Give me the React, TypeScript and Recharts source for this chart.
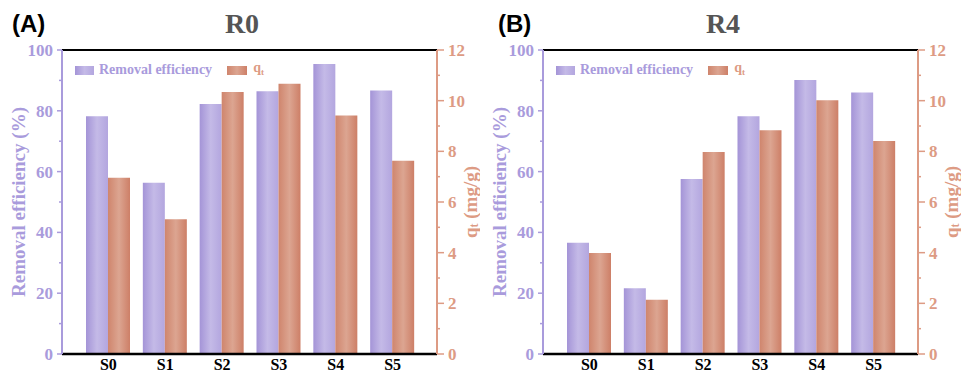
import { Bar, BarChart, Legend, ReferenceLine, XAxis, YAxis } from 'recharts';

const samples = ['S0', 'S1', 'S2', 'S3', 'S4', 'S5'];
const r0Removal = [78.2, 56.3, 82.2, 86.4, 95.4, 86.7];
const r0Qt = [6.96, 5.32, 10.34, 10.67, 9.41, 7.63];
const r4Removal = [36.6, 21.6, 57.6, 78.2, 90.1, 86.0];
const r4Qt = [3.99, 2.14, 7.97, 8.83, 10.02, 8.41];
const removalTicks = [0, 10, 20, 30, 40, 50, 60, 70, 80, 90, 100];
const qtTicks = [0, 1, 2, 3, 4, 5, 6, 7, 8, 9, 10, 11, 12];

const SERIF = "'Liberation Serif', 'Times New Roman', serif";
const SANS = "'Liberation Sans', Arial, sans-serif";
const PURPLE = '#a99bdc';
const ORANGE = '#dd9b84';

const PURPLE_BG = 'linear-gradient(90deg, #a494d7 0%, #c4bae7 50%, #b3a6df 100%)';
const ORANGE_BG = 'linear-gradient(90deg, #cf856d 0%, #dca591 50%, #cd7f67 100%)';

function LeftTick(props: any) {
  const { x, y, payload } = props;
  const major = payload.value % 20 === 0;
  return (
    <g>
      <line x1={x} x2={x - (major ? 5 : 3)} y1={y} y2={y} stroke={PURPLE} strokeWidth={1.5} />
      {major && (
        <text
          x={x - 9}
          y={y}
          dy="0.35em"
          textAnchor="end"
          fill={PURPLE}
          style={{ fontFamily: SERIF, fontWeight: 'bold', fontSize: 17 }}
        >
          {payload.value}
        </text>
      )}
    </g>
  );
}

function RightTick(props: any) {
  const { x, y, payload } = props;
  const major = payload.value % 2 === 0;
  return (
    <g>
      <line x1={x} x2={x + (major ? 7 : 3)} y1={y} y2={y} stroke={ORANGE} strokeWidth={1.5} />
      {major && (
        <text
          x={x + 11}
          y={y}
          dy="0.35em"
          textAnchor="start"
          fill={ORANGE}
          style={{ fontFamily: SERIF, fontWeight: 'bold', fontSize: 17 }}
        >
          {payload.value}
        </text>
      )}
    </g>
  );
}

function BottomTick(props: any) {
  const { x, y, payload } = props;
  return (
    <text
      x={x}
      y={y}
      dy="0.71em"
      textAnchor="middle"
      fill="#000"
      style={{ fontFamily: SERIF, fontWeight: 'bold', fontSize: 16 }}
    >
      {payload.value}
    </text>
  );
}

function LeftLabel(props: any) {
  const vb = props.viewBox || { x: 0, y: 50, width: 62, height: 304 };
  const cx = vb.x + 18;
  const cy = vb.y + vb.height / 2;
  return (
    <text
      x={cx}
      y={cy}
      transform={`rotate(-90, ${cx}, ${cy})`}
      textAnchor="middle"
      dominantBaseline="central"
      fill={PURPLE}
      style={{ fontFamily: SERIF, fontWeight: 'bold', fontSize: 19 }}
    >
      Removal efficiency (%)
    </text>
  );
}

function RightLabel(props: any) {
  const vb = props.viewBox || { x: 437, y: 50, width: 43, height: 304 };
  const cx = vb.x + 33;
  const cy = vb.y + vb.height / 2;
  return (
    <text
      x={cx}
      y={cy}
      transform={`rotate(-90, ${cx}, ${cy})`}
      textAnchor="middle"
      dominantBaseline="central"
      fill={ORANGE}
      style={{ fontFamily: SERIF, fontWeight: 'bold', fontSize: 19 }}
    >
      q
      <tspan fontSize={12} dy={4}>
        t
      </tspan>
      <tspan dy={-4}> (mg/g)</tspan>
    </text>
  );
}

function LegendBox() {
  return (
    <div
      style={{
        display: 'flex',
        alignItems: 'center',
        fontFamily: SERIF,
        fontWeight: 'bold',
        fontSize: 14,
        lineHeight: '14px',
      }}
    >
      <span style={{ width: 19, height: 9, background: PURPLE_BG, marginRight: 5 }} />
      <span style={{ color: PURPLE }}>Removal efficiency</span>
      <span style={{ width: 20, height: 9, background: ORANGE_BG, marginLeft: 15, marginRight: 6 }} />
      <span style={{ color: ORANGE }}>
        q<sub style={{ fontSize: 9, verticalAlign: -3 }}>t</sub>
      </span>
    </div>
  );
}

function Panel({ removal, qt, id }: { removal: number[]; qt: number[]; id: string }) {
  const data = samples.map((s, i) => ({ name: s, removal: removal[i], qt: qt[i] }));
  return (
    <BarChart
      width={480}
      height={372}
      data={data}
      margin={{ top: 50, right: 0, bottom: 0, left: 0 }}
      barGap={0}
      barSize={22}
    >
      <defs>
        <linearGradient id={`pg${id}`} x1="0" y1="0" x2="1" y2="0">
          <stop offset="0%" stopColor="#a494d7" />
          <stop offset="50%" stopColor="#c4bae7" />
          <stop offset="100%" stopColor="#b3a6df" />
        </linearGradient>
        <linearGradient id={`og${id}`} x1="0" y1="0" x2="1" y2="0">
          <stop offset="0%" stopColor="#cf856d" />
          <stop offset="50%" stopColor="#dca591" />
          <stop offset="100%" stopColor="#cd7f67" />
        </linearGradient>
      </defs>
      <XAxis
        dataKey="name"
        height={18}
        padding={{ left: 18, right: 16 }}
        axisLine={{ stroke: '#000', strokeWidth: 2.5 }}
        tickLine={false}
        tickSize={0}
        tickMargin={5}
        tick={BottomTick}
      />
      <YAxis
        yAxisId="left"
        width={62}
        domain={[0, 100]}
        ticks={removalTicks}
        interval={0}
        tickSize={0}
        tickMargin={0}
        tickLine={false}
        axisLine={{ stroke: PURPLE, strokeWidth: 2 }}
        tick={LeftTick}
        label={LeftLabel}
      />
      <YAxis
        yAxisId="right"
        orientation="right"
        width={43}
        domain={[0, 12]}
        ticks={qtTicks}
        interval={0}
        tickSize={0}
        tickMargin={0}
        tickLine={false}
        axisLine={{ stroke: ORANGE, strokeWidth: 2 }}
        tick={RightTick}
        label={RightLabel}
      />
      <ReferenceLine yAxisId="left" y={100} stroke="#000" strokeWidth={2} />
      <Legend
        layout="horizontal"
        verticalAlign="middle"
        align="center"
        content={LegendBox}
        wrapperStyle={{ top: 61, left: 75, width: 'auto' }}
      />
      <Bar
        yAxisId="left"
        dataKey="removal"
        name="Removal efficiency"
        fill={`url(#pg${id})`}
        isAnimationActive={false}
      />
      <Bar yAxisId="right" dataKey="qt" name="qt" fill={`url(#og${id})`} isAnimationActive={false} />
    </BarChart>
  );
}

export default function App() {
  return (
    <div style={{ position: 'absolute', left: 0, top: 0, width: 963, height: 372, background: '#fff' }}>
      <div style={{ position: 'absolute', left: 0, top: 0 }}>
        <Panel removal={r0Removal} qt={r0Qt} id="a" />
      </div>
      <div style={{ position: 'absolute', left: 481, top: 0 }}>
        <Panel removal={r4Removal} qt={r4Qt} id="b" />
      </div>
      <svg
        width={963}
        height={40}
        style={{ position: 'absolute', left: 0, top: 0, pointerEvents: 'none' }}
      >
        <text x={12} y={32} fontFamily={SANS} fontWeight="bold" fontSize={24} fill="#000">
          (A)
        </text>
        <text x={242} y={33} textAnchor="middle" fontFamily={SERIF} fontWeight="bold" fontSize={28} fill="#555">
          R0
        </text>
        <text x={498} y={32} fontFamily={SANS} fontWeight="bold" fontSize={24} fill="#000">
          (B)
        </text>
        <text x={723} y={33} textAnchor="middle" fontFamily={SERIF} fontWeight="bold" fontSize={28} fill="#555">
          R4
        </text>
      </svg>
    </div>
  );
}
